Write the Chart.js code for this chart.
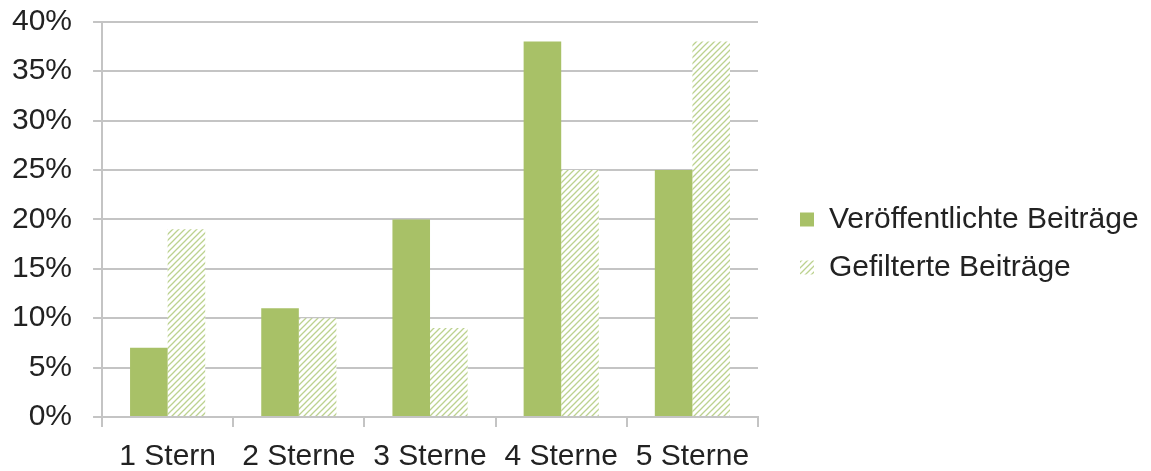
<!DOCTYPE html>
<html>
<head>
<meta charset="utf-8">
<script src="https://cdn.jsdelivr.net/npm/chart.js@4"></script>
<style>
  html, body { margin: 0; padding: 0; background: #fff; }
  #wrap { width: 1151px; height: 471px; }
</style>
</head>
<body>
<div id="wrap"><canvas id="chartArea"></canvas></div>
<script>
var categories = ['1 Stern', '2 Sterne', '3 Sterne', '4 Sterne', '5 Sterne']
var published = [7, 11, 20, 38, 25]
var filtered = [19, 10, 9, 25, 38]
var seriesNames = ['Veröffentlichte Beiträge', 'Gefilterte Beiträge']

var green = '#a8c167'
var hatchGreen = '#bcd28f'
var gridGrey = '#c4c4c4'
var textColor = '#222222'

// diagonal hatch "/" for the filtered series
function makeHatch(){
  var size = 6
  var c = document.createElement('canvas')
  c.width = size
  c.height = size
  var g = c.getContext('2d')
  g.fillStyle = '#ffffff'
  g.fillRect(0, 0, size, size)
  g.strokeStyle = hatchGreen
  g.lineWidth = 1.3
  g.beginPath()
  g.moveTo(0, size); g.lineTo(size, 0)
  g.moveTo(-size / 2, size / 2); g.lineTo(size / 2, -size / 2)
  g.moveTo(size / 2, size * 1.5); g.lineTo(size * 1.5, size / 2)
  g.stroke()
  return g.createPattern(c, 'repeat')
}

// the default layout caps a side legend at a quarter of the width,
// so widen it by hand and nudge it a little
var legendFix = {
  id: 'legendFix',
  beforeUpdate: function(chart){
    var lg = chart.legend
    if (lg && !lg._wrapped) {
      var fit = lg.fit
      lg.fit = function(){
        fit.call(this)
        this.width = 393
      }
      lg._wrapped = true
    }
  },
  afterLayout: function(chart){
    var lg = chart.legend
    lg.left += 24
    lg.right += 24
    lg.top += 8
    lg.bottom += 8
  }
}

var ctx = document.getElementById('chartArea').getContext('2d')
var hatch = makeHatch()

var font = { family: 'Liberation Sans', size: 30 }
// tiny line height on the y labels so the tick padding does not push the plot down
var yFont = { family: 'Liberation Sans', size: 30, lineHeight: 0.05 }
var xFont = { family: 'Liberation Sans', size: 30, lineHeight: 1 }

var myChart = new Chart(ctx, {
  type: 'bar',
  data: {
    labels: categories,
    datasets: [
      {
        label: seriesNames[0],
        data: published,
        backgroundColor: green,
        borderWidth: 0
      },
      {
        label: seriesNames[1],
        data: filtered,
        backgroundColor: hatch,
        borderWidth: 0
      }
    ]
  },
  options: {
    responsive: true,
    maintainAspectRatio: false,
    animation: false,
    categoryPercentage: 0.573,
    barPercentage: 1,
    layout: { padding: { left: -9, top: 0, right: 0, bottom: 0 } },
    plugins: {
      tooltip: { enabled: false },
      legend: {
        position: 'right',
        align: 'center',
        labels: {
          font: font,
          color: textColor,
          boxWidth: 14,
          boxHeight: 14,
          padding: 18
        }
      }
    },
    scales: {
      x: {
        afterFit: function(scale){ scale.height = 54 },
        grid: {
          drawOnChartArea: false,
          drawTicks: true,
          tickLength: 10,
          color: gridGrey,
          lineWidth: 2
        },
        border: { color: gridGrey, width: 2 },
        ticks: { font: xFont, color: textColor, padding: 15, maxRotation: 0 }
      },
      y: {
        min: 0,
        max: 40,
        grid: {
          color: gridGrey,
          lineWidth: 2,
          tickLength: 9
        },
        border: { color: gridGrey, width: 2 },
        ticks: {
          stepSize: 5,
          font: yFont,
          color: textColor,
          padding: 21,
          callback: function(v){ return v + '%' }
        }
      }
    }
  },
  plugins: [legendFix]
})
</script>
</body>
</html>
